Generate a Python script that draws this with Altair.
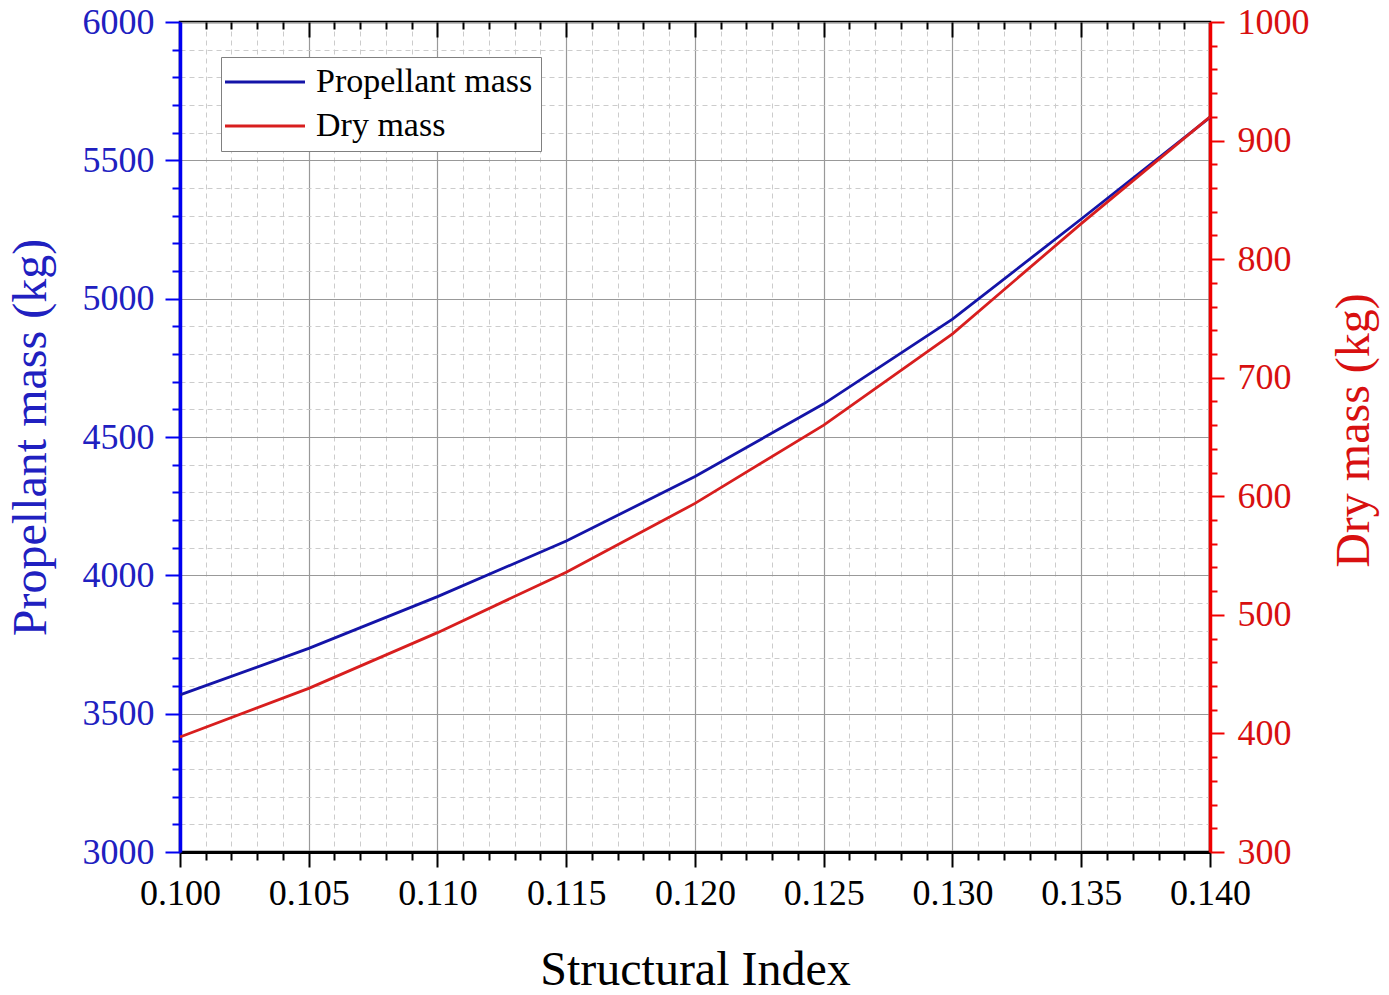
import altair as alt
import pandas as pd

# values
structural_index = [0.100, 0.105, 0.110, 0.115, 0.120, 0.125, 0.130, 0.135, 0.140]
propellant_mass = [3568, 3736, 3923, 4124, 4357, 4620, 4926, 5288, 5655]
dry_mass = [397, 438, 485, 536, 594, 660, 737, 830, 920]

series_names = ["Propellant mass", "Dry mass"]
series_colors = ["#1414a8", "#d81e1e"]

x_major = [0.100, 0.105, 0.110, 0.115, 0.120, 0.125, 0.130, 0.135, 0.140]
x_minor = [round(0.1 + i * 0.001, 3) for i in range(41) if i % 5]
left_major = [3000, 3500, 4000, 4500, 5000, 5500, 6000]
left_minor = [v for v in range(3000, 6001, 100) if v % 500]
right_major = [300, 400, 500, 600, 700, 800, 900, 1000]
right_minor = [v for v in range(300, 1001, 20) if v % 100]

FONT = "Liberation Serif"
BLUE_AXIS = "#0000f0"
BLUE_TEXT = "#2020c0"
RED_AXIS = "#f00000"
RED_TEXT = "#d81010"

df = pd.DataFrame(
    {
        "Structural Index": structural_index,
        "Propellant mass": propellant_mass,
        "Dry mass": dry_mass,
    }
)

x_scale = alt.Scale(domain=[0.100, 0.140], nice=False, zero=False)
left_scale = alt.Scale(domain=[3000, 6000], nice=False, zero=False)
right_scale = alt.Scale(domain=[300, 1000], nice=False, zero=False)
color_scale = alt.Scale(domain=series_names, range=series_colors)

legend = alt.Legend(
    orient="none",
    legendX=41,
    legendY=35,
    title=None,
    symbolType="M-2.1,0H5.9",
    symbolSize=400,
    symbolStrokeWidth=2.8,
    labelOffset=53,
    labelFont=FONT,
    labelFontSize=34,
    labelColor="black",
    labelLimit=0,
    padding=8,
    rowPadding=10,
    strokeColor="#808080",
    fillColor="white",
)


def no_axis_bits(**kw):
    # minor / mirror axes: ticks only
    base = dict(labels=False, domain=False, title=None, grid=False)
    base.update(kw)
    return alt.Axis(**base)


base = alt.Chart(df)

# blue line + bottom axis + left axis (major)
prop_line = base.mark_line(strokeWidth=2.8).transform_calculate(
    series="'Propellant mass'"
).encode(
    x=alt.X(
        "Structural Index:Q",
        scale=x_scale,
        axis=alt.Axis(
            orient="bottom",
            values=x_major,
            format=".3f",
            tickSize=15,
            tickWidth=2,
            tickColor="black",
            domainColor="black",
            domainWidth=3,
            labelFont=FONT,
            labelFontSize=36,
            labelColor="black",
            labelPadding=9,
            labelFlush=False,
            grid=True,
            gridColor="#999999",
            gridWidth=1.2,
            title="Structural Index",
            titleFont=FONT,
            titleFontSize=48,
            titleFontWeight="normal",
            titleColor="black",
            titleX=515,
            titleY=132,
            titleBaseline="alphabetic",
        ),
    ),
    y=alt.Y(
        "Propellant mass:Q",
        scale=left_scale,
        axis=alt.Axis(
            orient="left",
            values=left_major,
            format="d",
            tickSize=15,
            tickWidth=2,
            tickColor=BLUE_AXIS,
            domainColor=BLUE_AXIS,
            domainWidth=3.5,
            labelFont=FONT,
            labelFontSize=36,
            labelColor=BLUE_TEXT,
            labelPadding=11,
            labelFlush=False,
            grid=True,
            gridColor="#999999",
            gridWidth=1.2,
            title="Propellant mass (kg)",
            titleFont=FONT,
            titleFontSize=48,
            titleFontWeight="normal",
            titleColor=BLUE_TEXT,
            titleX=-135,
            titleY=415,
            titleAngle=270,
            titleBaseline="alphabetic",
        ),
    ),
    color=alt.Color("series:N", scale=color_scale, legend=legend),
)

# red line + right axis (major)
dry_line = base.mark_line(strokeWidth=2.8).transform_calculate(
    series="'Dry mass'"
).encode(
    x=alt.X("Structural Index:Q", scale=x_scale, axis=None),
    y=alt.Y(
        "Dry mass:Q",
        scale=right_scale,
        axis=alt.Axis(
            orient="right",
            values=right_major,
            format="d",
            tickSize=14,
            tickWidth=2,
            tickColor=RED_AXIS,
            domainColor=RED_AXIS,
            domainWidth=3.5,
            labelFont=FONT,
            labelFontSize=36,
            labelColor=RED_TEXT,
            labelPadding=13,
            labelFlush=False,
            grid=False,
            title="Dry mass (kg)",
            titleFont=FONT,
            titleFontSize=48,
            titleFontWeight="normal",
            titleColor=RED_TEXT,
            titleX=158,
            titleY=408,
            titleAngle=270,
            titleBaseline="alphabetic",
        ),
    ),
    color=alt.Color("series:N", scale=color_scale, legend=legend),
)

# minor ticks + dashed minor grid, bottom and left
minor_bl = base.mark_line(opacity=0).encode(
    x=alt.X(
        "Structural Index:Q",
        scale=x_scale,
        axis=no_axis_bits(
            orient="bottom", values=x_minor, tickSize=8, tickWidth=2,
            tickColor="black", grid=True, gridColor="#cccccc",
            gridDash=[5, 4], gridWidth=1,
        ),
    ),
    y=alt.Y(
        "Propellant mass:Q",
        scale=left_scale,
        axis=no_axis_bits(
            orient="left", values=left_minor, tickSize=8, tickWidth=2,
            tickColor=BLUE_AXIS, grid=True, gridColor="#cccccc",
            gridDash=[5, 4], gridWidth=1,
        ),
    ),
)

# top mirror ticks (pointing inward) + right minor ticks
top_major = base.mark_line(opacity=0).encode(
    x=alt.X(
        "Structural Index:Q",
        scale=x_scale,
        axis=no_axis_bits(
            orient="top", values=x_major, tickSize=15, tickWidth=2,
            tickColor="black", offset=-15,
        ),
    ),
    y=alt.Y(
        "Dry mass:Q",
        scale=right_scale,
        axis=no_axis_bits(
            orient="right", values=right_minor, tickSize=7, tickWidth=2,
            tickColor=RED_AXIS,
        ),
    ),
)

top_minor = base.mark_line(opacity=0).encode(
    x=alt.X(
        "Structural Index:Q",
        scale=x_scale,
        axis=no_axis_bits(
            orient="top", values=x_minor, tickSize=7, tickWidth=2,
            tickColor="black", offset=-7,
        ),
    ),
    y=alt.Y("Dry mass:Q", scale=right_scale, axis=None),
)

chart = (
    alt.layer(minor_bl, top_major, top_minor, prop_line, dry_line)
    .resolve_scale(y="independent")
    .resolve_axis(x="independent", y="independent")
    .properties(
        width=1030,
        height=830,
        autosize=alt.AutoSizeParams(type="none"),
        padding={"left": 172, "top": 14, "right": 171, "bottom": 135},
    )
    .configure_view(stroke="black", strokeWidth=2.5)
)

chart.save("out.html", embed_options={"renderer": "svg", "actions": False})
